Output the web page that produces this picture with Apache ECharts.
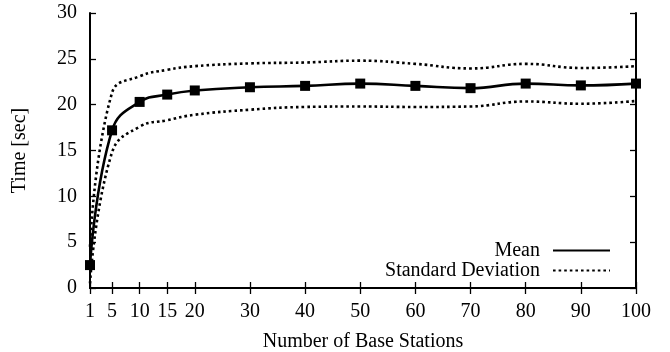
<!DOCTYPE html>
<html>
<head>
<meta charset="utf-8">
<script src="https://cdn.jsdelivr.net/npm/echarts@6/dist/echarts.min.js"></script>
<style>
html, body { margin: 0; padding: 0; background: #fff; }
#main { width: 670px; height: 352px; }
</style>
</head>
<body>
<div id="main"></div>
<script>
// number of base stations
var stations = [1, 5, 10, 15, 20, 30, 40, 50, 60, 70, 80, 90, 100];
var xTicks = [1, 5, 10, 15, 20, 30, 40, 50, 60, 70, 80, 90, 100];
// time [sec]
var meanTime = [2.5, 17.2, 20.3, 21.1, 21.55, 21.9, 22.05, 22.3, 22.05, 21.8, 22.3, 22.1, 22.3];
var upperDev = [4.5, 21.3, 23.1, 23.8, 24.2, 24.5, 24.6, 24.8, 24.45, 23.95, 24.45, 24.0, 24.2];
var lowerDev = [0.5, 14.8, 17.6, 18.3, 18.9, 19.45, 19.75, 19.8, 19.75, 19.8, 20.35, 20.1, 20.4];

function pairs(xs, ys) {
    var out = [];
    for (var i = 0; i < xs.length; i++) out.push([xs[i], ys[i]]);
    return out;
}

var font = 'Liberation Serif';
var fs = 20;
var chart = echarts.init(document.getElementById('main'));

var option = {
    backgroundColor: '#fff',
    animation: false,
    textStyle: { fontFamily: font, color: '#000' },
    grid: { left: 90, right: 34, top: 13, bottom: 64, containLabel: false, outerBoundsMode: 'none' },
    legend: {
        orient: 'vertical',
        right: 59,
        top: 240.5,
        padding: 0,
        align: 'right',
        itemWidth: 57,
        itemHeight: 14,
        itemGap: 0,
        itemStyle: { opacity: 0 },
        textStyle: { fontFamily: font, fontSize: fs, lineHeight: 19, color: '#000', padding: [0, 8, 0, 0] },
        data: ['Mean', 'Standard Deviation']
    },
    xAxis: [{
        type: 'value',
        min: 1, max: 100,
        name: 'Number of Base Stations',
        nameLocation: 'middle',
        nameGap: 44,
        nameTextStyle: { fontFamily: font, fontSize: fs, color: '#000' },
        axisLine: { lineStyle: { color: '#000', width: 2 } },
        axisTick: { inside: true, length: 6, customValues: xTicks, lineStyle: { color: '#000', width: 1.3 } },
        axisLabel: { customValues: xTicks, fontFamily: font, fontSize: fs, color: '#000', margin: 14 },
        splitLine: { show: false }
    }, {
        type: 'value',
        position: 'top',
        min: 1, max: 100,
        axisLine: { lineStyle: { color: '#000', width: 2 } },
        axisTick: { inside: true, length: 6, customValues: xTicks, lineStyle: { color: '#000', width: 1.3 } },
        axisLabel: { show: false },
        splitLine: { show: false }
    }],
    yAxis: [{
        type: 'value',
        min: 0, max: 30, interval: 5,
        name: 'Time [sec]',
        nameLocation: 'middle',
        nameGap: 60,
        nameTextStyle: { fontFamily: font, fontSize: fs, color: '#000' },
        axisLine: { show: true, lineStyle: { color: '#000', width: 2 } },
        axisTick: { show: true, inside: true, length: 6, lineStyle: { color: '#000', width: 1.3 } },
        axisLabel: { fontFamily: font, fontSize: fs, color: '#000', margin: 13 },
        splitLine: { show: false }
    }, {
        type: 'value',
        position: 'right',
        min: 0, max: 30, interval: 5,
        axisLine: { show: true, lineStyle: { color: '#000', width: 2 } },
        axisTick: { show: true, inside: true, length: 6, lineStyle: { color: '#000', width: 1.3 } },
        axisLabel: { show: false },
        splitLine: { show: false }
    }],
    series: [{
        name: 'Standard Deviation',
        type: 'line',
        smooth: 0.45,
        symbol: 'none',
        data: pairs(stations, upperDev),
        lineStyle: { color: '#000', width: 2.6, type: [2.6, 3], cap: 'butt' },
        itemStyle: { color: '#000' },
        z: 2
    }, {
        name: 'Standard Deviation',
        type: 'line',
        smooth: 0.45,
        symbol: 'none',
        data: pairs(stations, lowerDev),
        lineStyle: { color: '#000', width: 2.6, type: [2.6, 3], cap: 'butt' },
        itemStyle: { color: '#000' },
        z: 2
    }, {
        name: 'Mean',
        type: 'line',
        smooth: 0.45,
        symbol: 'rect',
        symbolSize: 10,
        data: pairs(stations, meanTime),
        lineStyle: { color: '#000', width: 2.6 },
        itemStyle: { color: '#000' },
        z: 3
    }]
};
chart.setOption(option);
</script>
</body>
</html>
